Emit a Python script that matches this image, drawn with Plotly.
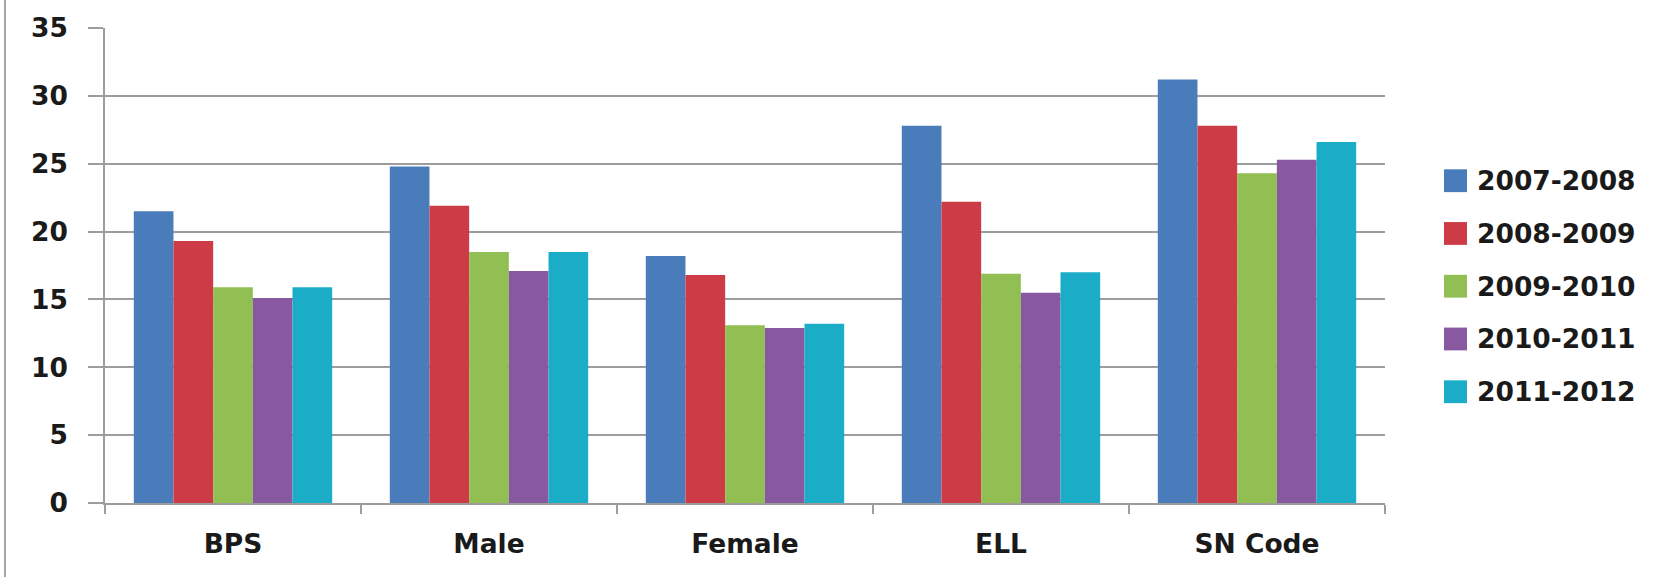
import plotly.graph_objects as go

categories = ["BPS", "Male", "Female", "ELL", "SN Code"]
years = ["2007-2008", "2008-2009", "2009-2010", "2010-2011", "2011-2012"]
values_0708 = [21.5, 24.8, 18.2, 27.8, 31.2]
values_0809 = [19.3, 21.9, 16.8, 22.2, 27.8]
values_0910 = [15.9, 18.5, 13.1, 16.9, 24.3]
values_1011 = [15.1, 17.1, 12.9, 15.5, 25.3]
values_1112 = [15.9, 18.5, 13.2, 17.0, 26.6]
series = [values_0708, values_0809, values_0910, values_1011, values_1112]
colors = ["#4a7bbb", "#cc3b46", "#91bf53", "#8858a0", "#1badc8"]

W, H = 1671, 577
ML, MR, MT, MB = 105, 286, 24, 74
PW, PH = W - ML - MR, H - MT - MB

FONT = dict(family="DejaVu Sans", size=26.5, color="#1a1a1a")
GRID = "#9d9d9d"

fig = go.Figure()
for name, vals, col in zip(years, series, colors):
    fig.add_trace(go.Bar(
        x=categories, y=vals, name=name,
        marker=dict(color=col, line=dict(width=0)),
        showlegend=False,
    ))

def px_x(px):
    return (px - ML) / PW

def px_y(py):
    return (H - MB - py) / PH

shapes = []
annotations = []

# legend: colour swatch + label per series
legend_top = 178
legend_step = 53.2
sw = 23
for i, (name, col) in enumerate(zip(years, colors)):
    cy = legend_top + i * legend_step
    shapes.append(dict(
        type="rect", xref="paper", yref="paper",
        x0=px_x(1444), x1=px_x(1444 + sw),
        y0=px_y(cy + sw / 2), y1=px_y(cy - sw / 2),
        fillcolor=col, line=dict(width=0),
    ))
    annotations.append(dict(
        xref="paper", yref="paper", x=px_x(1475), y=px_y(cy),
        text="<b>%s</b>" % name, showarrow=False,
        xanchor="left", yanchor="middle", font=FONT,
    ))

# outer frame line on the left edge
shapes.append(dict(
    type="line", xref="paper", yref="paper",
    x0=px_x(5), x1=px_x(5), y0=-0.4, y1=1.2,
    line=dict(color="#a6a6a6", width=2),
))

fig.update_layout(
    width=W, height=H,
    margin=dict(l=ML, r=MR, t=MT, b=MB),
    paper_bgcolor="white", plot_bgcolor="white",
    barmode="group", bargap=0.225, bargroupgap=0,
    font=FONT,
    shapes=shapes, annotations=annotations,
    xaxis=dict(
        showline=True, linecolor=GRID, linewidth=1.5,
        ticks="outside", tickson="boundaries", ticklen=9,
        tickcolor=GRID, tickwidth=1.5,
        tickfont=FONT, showgrid=False,
        tickvals=categories,
        ticktext=["<b>%s</b>" % c for c in categories],
        ticklabelstandoff=16,
    ),
    yaxis=dict(
        range=[0, 35], dtick=5, tick0=0,
        showgrid=True, gridcolor=GRID, gridwidth=1.5,
        showline=True, linecolor=GRID, linewidth=1.5,
        ticks="outside", ticklen=15, tickcolor=GRID, tickwidth=1.5,
        tickfont=FONT, zeroline=False,
        tickprefix="<b>", ticksuffix="</b>",
        ticklabelstandoff=15,
    ),
)

fig.write_html("out.html")
